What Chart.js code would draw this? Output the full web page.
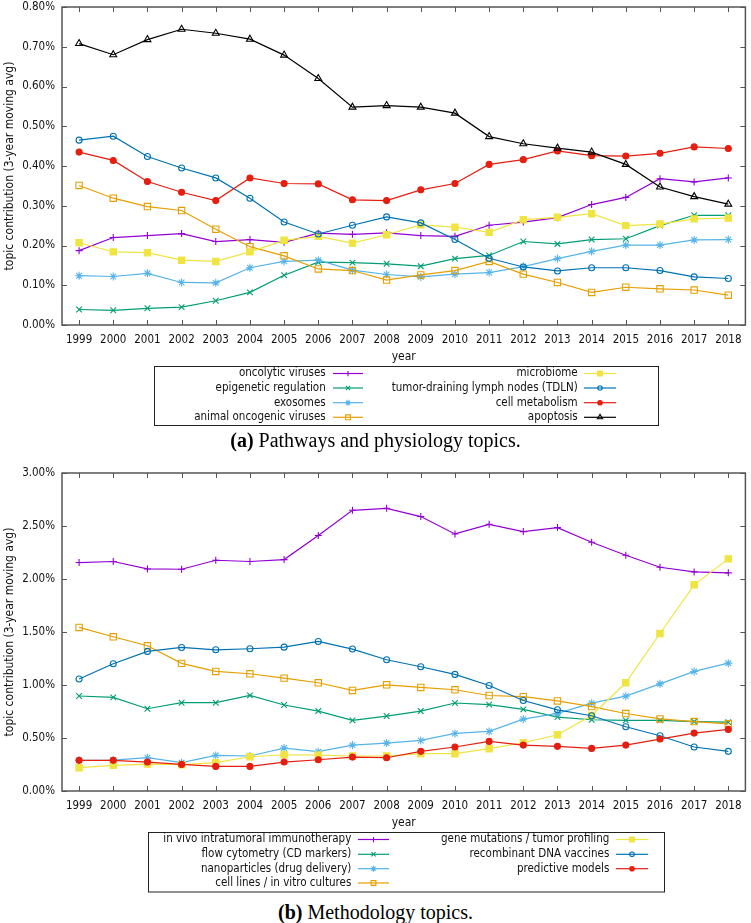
<!DOCTYPE html>
<html>
<head>
<meta charset="utf-8">
<script src="https://cdn.jsdelivr.net/npm/chart.js@4.4.1/dist/chart.umd.min.js"></script>
<style>
body { margin: 0; background: #fff; width: 751px; height: 923px; position: relative; overflow: hidden; }
.box { position: absolute; left: 0; width: 751px; height: 430px; }
.cap { position: absolute; left: 0; width: 751px; text-align: center; font-family: 'Liberation Serif', serif; font-size: 20px; line-height: 22px; color: #000; }
</style>
</head>
<body>
<div class="box" style="top:0"><canvas id="chartA"></canvas></div>
<div class="cap" style="top:429px"><b>(a)</b> Pathways and physiology topics.</div>
<div class="box" style="top:466px"><canvas id="chartB"></canvas></div>
<div class="cap" style="top:901px"><b>(b)</b> Methodology topics.</div>
<script>
var years = ['1999', '2000', '2001', '2002', '2003', '2004', '2005', '2006', '2007', '2008',
             '2009', '2010', '2011', '2012', '2013', '2014', '2015', '2016', '2017', '2018'];

// (a) pathways and physiology topics, % of corpus
var oncolyticViruses = [0.187, 0.220, 0.225, 0.230, 0.210, 0.215, 0.208, 0.231, 0.228, 0.232, 0.225, 0.223, 0.251, 0.259, 0.270, 0.303, 0.321, 0.368, 0.360, 0.370];
var epigeneticRegulation = [0.039, 0.037, 0.042, 0.045, 0.061, 0.082, 0.125, 0.158, 0.157, 0.154, 0.148, 0.167, 0.175, 0.210, 0.204, 0.215, 0.217, 0.250, 0.276, 0.276];
var exosomes = [0.124, 0.122, 0.130, 0.107, 0.106, 0.144, 0.160, 0.163, 0.138, 0.127, 0.121, 0.128, 0.132, 0.147, 0.167, 0.185, 0.201, 0.201, 0.214, 0.215];
var animalViruses = [0.351, 0.319, 0.298, 0.288, 0.241, 0.197, 0.174, 0.141, 0.137, 0.113, 0.126, 0.137, 0.160, 0.128, 0.107, 0.082, 0.095, 0.091, 0.088, 0.075];
var microbiome = [0.207, 0.184, 0.182, 0.163, 0.160, 0.184, 0.213, 0.223, 0.206, 0.227, 0.252, 0.246, 0.233, 0.265, 0.271, 0.280, 0.250, 0.254, 0.267, 0.269];
var tdln = [0.465, 0.475, 0.424, 0.395, 0.370, 0.319, 0.259, 0.229, 0.251, 0.272, 0.257, 0.215, 0.168, 0.146, 0.136, 0.144, 0.144, 0.137, 0.121, 0.117];
var cellMetabolism = [0.435, 0.414, 0.361, 0.334, 0.313, 0.370, 0.356, 0.355, 0.315, 0.313, 0.340, 0.356, 0.404, 0.416, 0.438, 0.426, 0.425, 0.432, 0.448, 0.444];
var apoptosis = [0.708, 0.680, 0.718, 0.744, 0.734, 0.719, 0.679, 0.620, 0.548, 0.552, 0.548, 0.533, 0.474, 0.456, 0.445, 0.435, 0.404, 0.347, 0.323, 0.304];

// (b) methodology topics
var inVivo = [2.155, 2.165, 2.095, 2.092, 2.177, 2.165, 2.183, 2.410, 2.648, 2.667, 2.589, 2.425, 2.516, 2.447, 2.485, 2.347, 2.224, 2.111, 2.067, 2.058];
var flowCytometry = [0.896, 0.883, 0.776, 0.833, 0.833, 0.902, 0.811, 0.754, 0.666, 0.707, 0.754, 0.830, 0.815, 0.770, 0.697, 0.672, 0.666, 0.666, 0.655, 0.649];
var nanoparticles = [0.289, 0.292, 0.314, 0.267, 0.336, 0.330, 0.405, 0.371, 0.433, 0.452, 0.477, 0.543, 0.562, 0.678, 0.732, 0.829, 0.895, 1.011, 1.128, 1.206];
var cellLines = [1.543, 1.455, 1.370, 1.204, 1.128, 1.106, 1.065, 1.021, 0.949, 1.002, 0.977, 0.955, 0.901, 0.890, 0.850, 0.796, 0.731, 0.680, 0.655, 0.634];
var geneMutations = [0.220, 0.242, 0.254, 0.248, 0.267, 0.323, 0.342, 0.339, 0.330, 0.330, 0.352, 0.352, 0.399, 0.455, 0.531, 0.713, 1.021, 1.486, 1.945, 2.190];
var dnaVaccines = [1.056, 1.200, 1.317, 1.354, 1.332, 1.342, 1.357, 1.411, 1.339, 1.238, 1.172, 1.100, 0.995, 0.854, 0.766, 0.710, 0.606, 0.521, 0.415, 0.374];
var predictiveModels = [0.289, 0.289, 0.273, 0.251, 0.232, 0.232, 0.273, 0.295, 0.320, 0.314, 0.374, 0.415, 0.468, 0.433, 0.421, 0.402, 0.433, 0.490, 0.546, 0.581];

var FONT = "'DejaVu Sans Condensed', 'DejaVu Sans', sans-serif";
Chart.defaults.font.family = FONT;
Chart.defaults.font.size = 11.5;
Chart.defaults.color = '#111';

// gnuplot-ish line types: colour, point style, radius, filled
var lt = [
    ['#9400D3', 'cross', 3.5, false],
    ['#009E73', 'crossRot', 4, false],
    ['#56B4E9', 'star', 4, false],
    ['#E69F00', 'rect', 4.5, false],
    ['#F0E442', 'rect', 4.5, true],
    ['#0072B2', 'circle', 3, false],
    ['#E51E10', 'circle', 3, true],
    ['#000000', 'triangle', 4, false]
];

function series(labels, arrays, types) {
    var n = labels.length;
    return labels.map(function (label, i) {
        var t = lt[types[i]];
        return {
            label: label,
            data: arrays[i],
            borderColor: t[0],
            backgroundColor: t[0],
            borderWidth: 1.2,
            pointStyle: t[1],
            pointRadius: t[2],
            pointHoverRadius: t[2],
            pointBorderWidth: 1.1,
            pointBorderColor: t[0],
            pointBackgroundColor: t[3] ? t[0] : 'rgba(0,0,0,0)',
            tension: 0,
            fill: false,
            order: n - i
        };
    });
}

// border + inward ticks on all four sides
var frameTicks = {
    id: 'frameTicks',
    afterDraw: function (chart) {
        var ctx = chart.ctx, a = chart.chartArea, x = chart.scales.x, y = chart.scales.y;
        ctx.save();
        ctx.strokeStyle = '#555';
        ctx.lineWidth = 1.5;
        ctx.strokeRect(a.left, a.top, a.right - a.left, a.bottom - a.top);
        ctx.lineWidth = 1;
        ctx.beginPath();
        x.ticks.forEach(function (t, i) {
            var px = Math.round(x.getPixelForTick(i)) + 0.5;
            ctx.moveTo(px, a.bottom); ctx.lineTo(px, a.bottom - 5);
            ctx.moveTo(px, a.top); ctx.lineTo(px, a.top + 5);
        });
        y.ticks.forEach(function (t, i) {
            var py = Math.round(y.getPixelForTick(i)) + 0.5;
            ctx.moveTo(a.left, py); ctx.lineTo(a.left + 5, py);
            ctx.moveTo(a.right, py); ctx.lineTo(a.right - 5, py);
        });
        ctx.stroke();
        ctx.restore();
    }
};

// boxed two-column key, text on the left of the sample
var boxLegend = {
    id: 'boxLegend',
    afterDraw: function (chart, args, opts) {
        var ctx = chart.ctx, b = opts.box;
        ctx.save();
        ctx.strokeStyle = '#222';
        ctx.lineWidth = 1;
        ctx.strokeRect(b[0] + 0.5, b[1] + 0.5, b[2] - b[0], b[3] - b[1]);
        ctx.font = '11.5px ' + FONT;
        ctx.textAlign = 'right';
        ctx.textBaseline = 'middle';
        chart.data.datasets.forEach(function (ds, i) {
            var col = opts.cols[Math.floor(i / opts.rows.length)];
            var yy = opts.rows[i % opts.rows.length];
            ctx.fillStyle = '#111';
            ctx.fillText(ds.label, col[0], yy);
            ctx.strokeStyle = ds.borderColor;
            ctx.lineWidth = ds.borderWidth;
            ctx.beginPath();
            ctx.moveTo(col[1], yy);
            ctx.lineTo(col[2], yy);
            ctx.stroke();
            ctx.fillStyle = ds.pointBackgroundColor;
            ctx.lineWidth = ds.pointBorderWidth;
            var mx = (col[1] + col[2]) / 2;
            if (Chart.helpers && Chart.helpers.drawPoint) {
                Chart.helpers.drawPoint(ctx, {pointStyle: ds.pointStyle, radius: ds.pointRadius * 0.75, rotation: 0, borderWidth: ds.pointBorderWidth}, mx, yy);
            } else {
                ctx.beginPath(); ctx.arc(mx, yy, 2, 0, Math.PI * 2); ctx.fill(); ctx.stroke();
            }
        });
        ctx.restore();
    }
};

function makeChart(id, datasets, yMax, yStep, legend) {
    return new Chart(document.getElementById(id), {
        type: 'line',
        data: {labels: years, datasets: datasets},
        options: {
            responsive: true,
            maintainAspectRatio: false,
            animation: false,
            devicePixelRatio: 1,
            layout: {padding: {top: 7, right: 1, bottom: 65, left: 0}},
            plugins: {
                legend: {display: false},
                tooltip: {enabled: false},
                boxLegend: legend
            },
            scales: {
                x: {
                    offset: true,
                    grid: {display: false, drawTicks: false},
                    border: {display: false},
                    ticks: {autoSkip: false, maxRotation: 0, padding: 8},
                    title: {display: true, text: 'year', font: {size: 12}, padding: {top: 0, bottom: 1}},
                    afterFit: function (s) { s.height = 40; s.paddingLeft = 0; s.paddingRight = 0; }
                },
                y: {
                    min: 0,
                    max: yMax,
                    grid: {display: false, drawTicks: false},
                    border: {display: false},
                    ticks: {
                        stepSize: yStep,
                        padding: 7,
                        callback: function (v) { return v.toFixed(2) + '%'; }
                    },
                    title: {display: true, text: 'topic contribution (3-year moving avg)', font: {size: 12}, padding: {top: 3, bottom: 0}},
                    afterFit: function (s) { s.width = 62; s.paddingTop = 0; s.paddingBottom = 0; }
                }
            }
        },
        plugins: [frameTicks, boxLegend]
    });
}

makeChart('chartA', series(
    ['oncolytic viruses', 'epigenetic regulation', 'exosomes', 'animal oncogenic viruses',
     'microbiome', 'tumor-draining lymph nodes (TDLN)', 'cell metabolism', 'apoptosis'],
    [oncolyticViruses, epigeneticRegulation, exosomes, animalViruses, microbiome, tdln, cellMetabolism, apoptosis],
    [0, 1, 2, 3, 4, 5, 6, 7]
), 0.8, 0.1, {
    box: [154, 366, 658, 425],
    rows: [373.5, 388, 402.7, 417.3],
    cols: [[325.7, 333, 363], [577.7, 584, 616]]
});

makeChart('chartB', series(
    ['in vivo intratumoral immunotherapy', 'flow cytometry (CD markers)', 'nanoparticles (drug delivery)', 'cell lines / in vitro cultures',
     'gene mutations / tumor profiling', 'recombinant DNA vaccines', 'predictive models'],
    [inVivo, flowCytometry, nanoparticles, cellLines, geneMutations, dnaVaccines, predictiveModels],
    [0, 1, 2, 3, 4, 5, 6]
), 3, 0.5, {
    box: [148, 366, 664, 425.5],
    rows: [373.5, 388.3, 402.7, 417],
    cols: [[351.3, 358, 389], [609.3, 616, 648]]
});
</script>
</body>
</html>
